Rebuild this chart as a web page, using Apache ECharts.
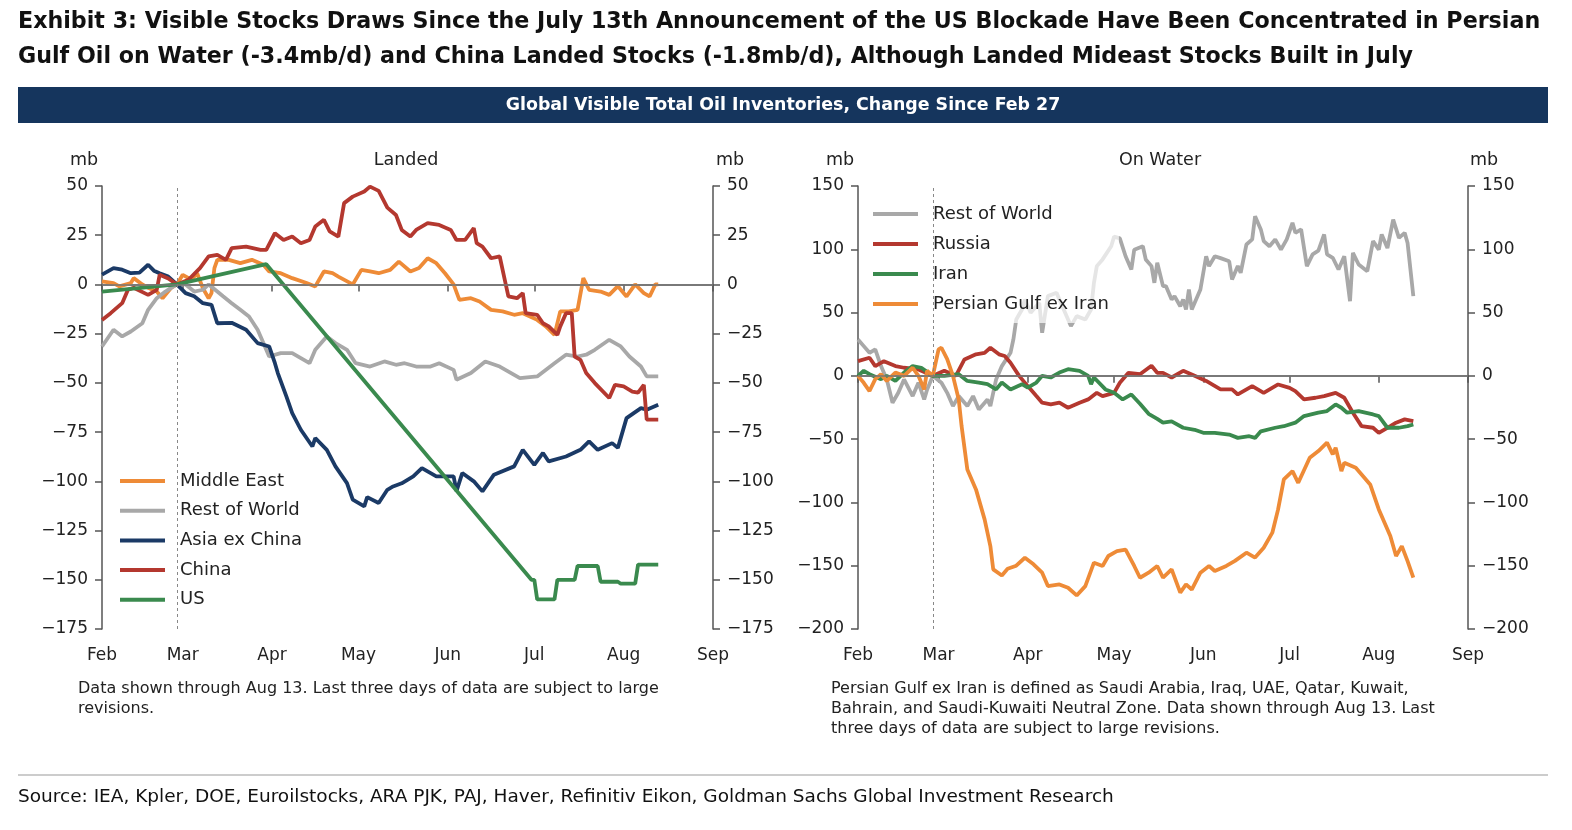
<!DOCTYPE html>
<html>
<head>
<meta charset="utf-8">
<script src="https://cdn.jsdelivr.net/npm/echarts@6/dist/echarts.min.js"></script>
<style>
html,body{margin:0;padding:0;background:#fff;}
#chart{width:1572px;height:830px;}
</style>
</head>
<body>
<div id="chart"></div>
<script>
const YEAR = '2026';
const xMin = '02-01', xMax = '09-01', baseDate = '02-27';
const monthTicks = ['Feb','Mar','Apr','May','Jun','Jul','Aug','Sep'];

// ---- Landed (mb, change since Feb 27) ----
const landedMiddleEast = [['02-01',1.5],['02-05',0.7],['02-07',-1],['02-11',0.7],['02-12',3.2],['02-15',0],['02-17',-1.7],['02-20',-3.6],['02-22',-7],['02-25',-1.7],['02-27',0],['03-01',4.9],['03-04',2.4],['03-06',5.7],['03-08',-1.9],['03-10',-7],['03-11',-4.4],['03-12',8.3],['03-13',12.5],['03-17',12.5],['03-21',10.8],['03-25',12.5],['03-29',10],['03-31',6.6],['04-04',5.7],['04-08',3.2],['04-13',0.7],['04-16',-1],['04-19',6.6],['04-22',5.7],['04-24',4],['04-29',0],['05-02',7.4],['05-05',6.6],['05-08',5.7],['05-12',7.4],['05-15',11.6],['05-19',6.6],['05-22',8.3],['05-25',13.3],['05-28',10.8],['05-31',5.7],['06-03',0],['06-05',-7.8],['06-09',-7],['06-12',-8.7],['06-16',-12.9],['06-20',-13.7],['06-24',-15.4],['06-27',-14.6],['07-02',-18],['07-05',-21.3],['07-08',-25.6],['07-10',-13.7],['07-13',-13.7],['07-16',-12.9],['07-18',3.2],['07-20',-2.7],['07-24',-3.6],['07-27',-5.3],['07-30',-0.9],['08-02',-6.1],['08-05',0],['08-08',-4.4],['08-10',-6.1],['08-12',0],['08-13',0]];
const landedRestOfWorld = [['02-01',-31.5],['02-05',-23],['02-08',-26.4],['02-11',-23.9],['02-15',-19.7],['02-17',-12.9],['02-20',-7],['02-23',-3.6],['02-25',-1.7],['02-27',0],['03-02',0],['03-05',-3.6],['03-08',-2.7],['03-10',0],['03-13',-3.6],['03-15',-6],['03-18',-9.5],['03-21',-12.9],['03-24',-16.3],['03-27',-23],['03-29',-29.8],['03-31',-36.6],['04-04',-34.9],['04-08',-34.9],['04-14',-40],['04-16',-33.2],['04-20',-26.4],['04-23',-29.8],['04-27',-33.2],['04-30',-40],['05-05',-41.7],['05-10',-39.1],['05-14',-40.8],['05-17',-40],['05-21',-41.7],['05-26',-41.7],['05-29',-40],['06-03',-43.4],['06-04',-48.4],['06-09',-45],['06-14',-39.1],['06-19',-41.7],['06-26',-47.6],['07-02',-46.7],['07-08',-40],['07-12',-35.7],['07-16',-36.6],['07-19',-35.7],['07-22',-33.2],['07-27',-28.1],['07-31',-31.5],['08-03',-36.6],['08-07',-41.7],['08-09',-46.7],['08-13',-46.7]];
const landedAsiaExChina = [['02-01',5],['02-05',8.3],['02-08',7.5],['02-11',5.7],['02-14',6],['02-17',10],['02-19',7],['02-21',5.7],['02-24',4],['02-27',0],['03-02',-4.4],['03-05',-6],['03-08',-9.5],['03-11',-10.4],['03-13',-19.7],['03-18',-19.5],['03-23',-23],['03-27',-29.8],['03-31',-31.5],['04-02',-40],['04-03',-45],['04-06',-57],['04-08',-65.3],['04-11',-73.8],['04-15',-82.3],['04-16',-78],['04-20',-84],['04-23',-92.4],['04-27',-100.9],['04-29',-109.3],['05-03',-112.7],['05-04',-108],['05-08',-111],['05-11',-104.3],['05-13',-102.6],['05-16',-101],['05-20',-97.5],['05-23',-93.3],['05-28',-97.5],['06-03',-97.5],['06-04',-105],['06-06',-95.8],['06-10',-100],['06-13',-105.1],['06-17',-96.6],['06-24',-92.4],['06-27',-84],['07-01',-91.6],['07-04',-85.6],['07-06',-89.9],['07-12',-87.4],['07-17',-84],['07-20',-79.7],['07-23',-84],['07-28',-80.6],['07-30',-83],['08-02',-67.9],['08-07',-62.8],['08-09',-63.6],['08-13',-61.1]];
const landedChina = [['02-01',-18],['02-04',-14.6],['02-08',-9.5],['02-10',-2.7],['02-12',-1.7],['02-17',-5.3],['02-20',-2.7],['02-21',4.9],['02-24',3],['02-27',0],['03-03',2.4],['03-07',8.3],['03-10',14.2],['03-13',15],['03-16',12.5],['03-18',18.4],['03-23',19.2],['03-28',17.6],['03-30',17.6],['04-02',26],['04-05',22.6],['04-08',24.3],['04-11',20.9],['04-14',22.6],['04-16',29.4],['04-19',32.8],['04-21',27],['04-24',24.3],['04-26',41.3],['04-29',44.6],['05-03',47.2],['05-05',49.7],['05-08',47.5],['05-11',39],['05-14',35.3],['05-16',27.7],['05-19',24.3],['05-21',27.7],['05-25',31.1],['05-29',30.2],['06-02',27.7],['06-04',22.6],['06-07',22.6],['06-10',28.6],['06-11',21],['06-13',19.2],['06-16',13.3],['06-19',14.2],['06-21',0.7],['06-22',-6.1],['06-25',-7],['06-27',-4.4],['06-28',-14.6],['07-02',-15.4],['07-04',-19.7],['07-06',-21.3],['07-09',-25.6],['07-10',-21.3],['07-12',-14.6],['07-14',-14.6],['07-15',-36.6],['07-17',-38.3],['07-19',-45],['07-22',-50.1],['07-27',-57.7],['07-29',-51],['08-01',-51.8],['08-04',-54.4],['08-06',-55],['08-08',-51],['08-09',-68.7],['08-13',-68.7]];
const landedUS = [['02-01',-3.6],['02-27',0],['03-30',10.3],['06-30',-150],['07-01',-150],['07-02',-160],['07-08',-160],['07-09',-150],['07-15',-150],['07-16',-143],['07-23',-143],['07-24',-151],['07-30',-151],['07-31',-152],['08-05',-152],['08-06',-142.3],['08-13',-142.3]];

// ---- On Water (mb, change since Feb 27) ----
const waterRestOfWorld = [['02-01',28.8],['02-03',23.5],['02-05',18.2],['02-07',21],['02-09',7.7],['02-11',-2.8],['02-13',-21.2],['02-15',-13.4],['02-17',-2.8],['02-20',-16],['02-22',-5.4],['02-24',-18.6],['02-25',-10.9],['02-27',0],['03-02',-5.4],['03-04',-13.4],['03-06',-23.9],['03-08',-16],['03-11',-23.9],['03-13',-16],['03-15',-26.5],['03-18',-18.6],['03-19',-23.9],['03-21',-2.8],['03-23',7.7],['03-26',18.2],['03-27',28.8],['03-28',44.5],['03-30',52.4],['03-31',60.3],['04-02',49.8],['04-05',57.7],['04-06',34],['04-08',63],['04-11',65.6],['04-13',55],['04-16',39.3],['04-18',47.2],['04-21',44.5],['04-23',52.4],['04-24',73.5],['04-25',86.7],['04-27',92],['04-30',102.4],['05-01',110],['05-03',108.6],['05-05',94.5],['05-07',84],['05-08',99.7],['05-11',102.4],['05-12',92],['05-14',86.7],['05-15',73.5],['05-16',89.3],['05-18',70.9],['05-19',70.9],['05-21',60.3],['05-22',63],['05-24',55],['05-25',60.3],['05-26',52.4],['05-27',68.2],['05-28',52.4],['05-31',68.2],['06-02',94.5],['06-03',86.7],['06-05',94.5],['06-07',93],['06-10',90.6],['06-11',76.1],['06-13',86.7],['06-14',81.4],['06-16',103.8],['06-18',107.8],['06-19',126.1],['06-21',115.7],['06-22',106.5],['06-24',102.4],['06-26',107.8],['06-28',99.7],['06-30',107.8],['07-02',120.9],['07-03',113],['07-05',115.7],['07-07',86.7],['07-09',96],['07-11',98.9],['07-13',111.7],['07-14',96],['07-16',93.3],['07-18',84],['07-20',94.5],['07-22',59],['07-23',97.2],['07-25',88],['07-28',82.7],['07-30',106.4],['08-01',99.7],['08-02',111.7],['08-04',101],['08-06',123.5],['08-08',109],['08-10',113],['08-11',105],['08-13',63]];
const waterRussia = [['02-01',11.6],['02-05',14.3],['02-07',7.7],['02-10',11.6],['02-14',7.7],['02-17',6.4],['02-22',5.1],['02-27',0],['03-03',4],['03-07',0],['03-10',13],['03-14',17],['03-17',18.2],['03-19',22.2],['03-22',17],['03-24',15.7],['03-26',10.3],['03-29',0],['04-01',-8.1],['04-04',-16],['04-06',-21.2],['04-09',-22.6],['04-12',-21.2],['04-15',-25.2],['04-19',-21.2],['04-22',-18.6],['04-25',-13.4],['04-27',-16],['05-01',-13.4],['05-03',-5.4],['05-06',2.4],['05-10',1.3],['05-14',8],['05-16',2.4],['05-18',2.4],['05-21',-1.3],['05-25',4],['05-29',0],['06-02',-4],['06-07',-10.7],['06-11',-10.7],['06-13',-14.7],['06-18',-8.1],['06-22',-13.4],['06-27',-6.8],['07-01',-9.5],['07-03',-12],['07-06',-18.6],['07-10',-17.3],['07-13',-16],['07-17',-13.4],['07-20',-17.3],['07-23',-29.1],['07-26',-39.7],['07-30',-41],['08-01',-45],['08-05',-39.7],['08-07',-37],['08-10',-34.4],['08-13',-35.7]];
const waterIran = [['02-01',0],['02-03',4],['02-05',1.3],['02-09',-2.6],['02-11',0],['02-14',-4],['02-17',2.6],['02-20',7.7],['02-23',6.4],['02-27',0],['03-03',0],['03-08',1.3],['03-11',-4],['03-15',-5.3],['03-18',-6.6],['03-21',-10.7],['03-23',-5.3],['03-26',-10.7],['03-30',-6.6],['04-01',-9.3],['04-04',-5.3],['04-06',0],['04-09',-1.3],['04-12',2.6],['04-15',5.3],['04-19',4],['04-22',0],['04-23',-6.6],['04-24',-1.3],['04-28',-10.7],['05-01',-13.4],['05-04',-18.6],['05-07',-14.7],['05-10',-22],['05-13',-30],['05-16',-34],['05-18',-37],['05-21',-36],['05-25',-41],['05-29',-42.6],['06-01',-45],['06-05',-45],['06-10',-46.4],['06-13',-49],['06-17',-47.7],['06-19',-49],['06-21',-43.8],['06-26',-41],['06-29',-39.8],['07-03',-37],['07-06',-31.8],['07-11',-29.1],['07-14',-27.8],['07-17',-22.6],['07-19',-25.2],['07-21',-29.1],['07-25',-27.8],['07-30',-30.5],['08-01',-31.8],['08-04',-41],['08-08',-41],['08-11',-39.7],['08-13',-38.4]];
const waterPersianGulfExIran = [['02-01',0],['02-03',-5.5],['02-05',-12],['02-07',-2.6],['02-09',1.3],['02-11',-4],['02-14',2.6],['02-17',0],['02-20',6.4],['02-22',0],['02-24',-10.7],['02-25',4],['02-27',0],['03-01',20.9],['03-02',22.2],['03-04',13.3],['03-06',0],['03-08',-18.6],['03-09',-39.7],['03-11',-73.9],['03-14',-89.7],['03-17',-113.4],['03-19',-134.5],['03-20',-152.9],['03-23',-157.7],['03-25',-152.4],['03-28',-150],['03-31',-143.7],['04-03',-148.9],['04-06',-155.5],['04-08',-166.1],['04-12',-164.8],['04-15',-167.4],['04-18',-173.5],['04-21',-166.1],['04-24',-147.6],['04-27',-150.2],['04-29',-142.3],['05-02',-138.5],['05-05',-137.2],['05-08',-150.2],['05-10',-159.5],['05-13',-155.5],['05-16',-150.2],['05-18',-159.5],['05-21',-152.9],['05-24',-171.3],['05-26',-164.8],['05-28',-168.8],['05-31',-155.5],['06-03',-150.2],['06-05',-154.2],['06-09',-150.2],['06-12',-146.2],['06-16',-139.7],['06-19',-143.6],['06-22',-135.8],['06-25',-123.9],['06-27',-105.5],['06-29',-81.8],['07-02',-75.3],['07-04',-84.5],['07-08',-64.7],['07-11',-59.4],['07-14',-52.8],['07-16',-62],['07-17',-56.8],['07-19',-75.3],['07-20',-68.7],['07-24',-72.6],['07-29',-85.8],['08-01',-105.5],['08-05',-126.6],['08-07',-142.4],['08-09',-134.5],['08-11',-146.4],['08-13',-159.5]];

const landedTicks = {min:-175, max:50, interval:25};
const waterTicks = {min:-200, max:150, interval:50};

const C = {orange:'#ee8b37', gray:'#a8a8a8', navy:'#1b3a66', red:'#b4382f', green:'#3a8a4e'};
const AX = '#555';
const FONT = '"DejaVu Sans", sans-serif';

const d = s => YEAR + '-' + s;
const toData = arr => arr.map(p => [d(p[0]), p[1]]);
const fmtY = v => String(v).replace('-', '\u2212');

function xAxis(grid){
  return {
    type:'time', gridIndex:grid, min:d(xMin), max:d(xMax), splitNumber:7,
    axisLine:{show:true, lineStyle:{color:AX, width:1.5}},
    axisTick:{show:true, length:7, lineStyle:{color:AX, width:1.5}},
    axisLabel:{formatter:(v)=>monthTicks[new Date(v).getMonth()-1] || '', color:'#222', fontSize:17, fontFamily:FONT, margin:18, showMinLabel:true, showMaxLabel:true, hideOverlap:false},
    splitLine:{show:false}
  };
}
function yAxis(grid, pos, t){
  return {
    type:'value', gridIndex:grid, position:pos, min:t.min, max:t.max, interval:t.interval,
    axisLine:{show:true, lineStyle:{color:AX, width:1.5}},
    axisTick:{show:true, length:7, lineStyle:{color:AX, width:1.5}},
    axisLabel:{formatter:fmtY, color:'#222', fontSize:17, fontFamily:FONT, margin:14},
    splitLine:{show:false}
  };
}
function line(name, arr, color, xi, yi, extra){
  return Object.assign({
    name, type:'line', data:toData(arr), xAxisIndex:xi, yAxisIndex:yi,
    showSymbol:false, symbol:'none', smooth:false, silent:true,
    lineStyle:{color, width:3.8}, itemStyle:{color}, z:3
  }, extra||{});
}
function refLines(){
  return {markLine:{silent:true, symbol:'none', animation:false, label:{show:false},
    data:[
      {xAxis:d(baseDate), lineStyle:{color:'#888', width:1, type:[3,3]}},
      {yAxis:0, lineStyle:{color:'#777', width:1.5, type:'solid'}}
    ]}};
}

const legendText = {color:'#222', fontSize:18, fontFamily:FONT, lineHeight:20, padding:[0,0,0,10]};
const txt = (x, y, text, size, extra) => ({type:'text', x, y, style:Object.assign({text, font:size+'px '+FONT, fill:'#222', textVerticalAlign:'middle'}, extra||{})});

const chart = echarts.init(document.getElementById('chart'), null, {renderer:'canvas'});
chart.setOption({
  animation:false,
  backgroundColor:'#fff',
  grid:[
    {left:102, right:859, top:186, bottom:201, containLabel:false},
    {left:858, right:104, top:186, bottom:201, containLabel:false}
  ],
  xAxis:[xAxis(0), xAxis(1)],
  yAxis:[
    yAxis(0,'left',landedTicks), yAxis(0,'right',landedTicks),
    yAxis(1,'left',waterTicks), yAxis(1,'right',waterTicks)
  ],
  legend:[
    {data:['Middle East','Rest of World','Asia ex China','China','US'], orient:'vertical', left:112, top:465,
     icon:'rect', itemWidth:45, itemHeight:4, itemGap:9.7, textStyle:legendText, selectedMode:false,
     backgroundColor:'rgba(255,255,255,0.7)', padding:[6,10,6,8]},
    {data:['Rest of World ','Russia','Iran','Persian Gulf ex Iran'], orient:'vertical', left:865, top:198,
     icon:'rect', itemWidth:45, itemHeight:4, itemGap:10, textStyle:legendText, selectedMode:false,
     backgroundColor:'rgba(255,255,255,0.7)', padding:[6,10,9,8],
     formatter:n=>n.trim()}
  ],
  series:[
    line('Middle East', landedMiddleEast, C.orange, 0, 0, refLines()),
    line('Rest of World', landedRestOfWorld, C.gray, 0, 0),
    line('Asia ex China', landedAsiaExChina, C.navy, 0, 0),
    line('China', landedChina, C.red, 0, 0),
    line('US', landedUS, C.green, 0, 0),
    line('Rest of World ', waterRestOfWorld, C.gray, 1, 2, refLines()),
    line('Russia', waterRussia, C.red, 1, 2),
    line('Iran', waterIran, C.green, 1, 2),
    line('Persian Gulf ex Iran', waterPersianGulfExIran, C.orange, 1, 2)
  ],
  graphic:[
    txt(18, 22, 'Exhibit 3: Visible Stocks Draws Since the July 13th Announcement of the US Blockade Have Been Concentrated in Persian', 22.2, {font:'bold 22.2px '+FONT, fill:'#111'}),
    txt(18, 57, 'Gulf Oil on Water (-3.4mb/d) and China Landed Stocks (-1.8mb/d), Although Landed Mideast Stocks Built in July', 22.2, {font:'bold 22.2px '+FONT, fill:'#111'}),
    {type:'rect', shape:{x:18, y:87, width:1530, height:36}, style:{fill:'#15355d'}},
    txt(783, 105, 'Global Visible Total Oil Inventories, Change Since Feb 27', 17.4, {font:'bold 17.4px '+FONT, fill:'#fff', textAlign:'center'}),
    txt(84, 160, 'mb', 17.5, {textAlign:'center'}),
    txt(730, 160, 'mb', 17.5, {textAlign:'center'}),
    txt(406, 160, 'Landed', 17.5, {textAlign:'center'}),
    txt(840, 160, 'mb', 17.5, {textAlign:'center'}),
    txt(1484, 160, 'mb', 17.5, {textAlign:'center'}),
    txt(1160, 160, 'On Water', 17.5, {textAlign:'center'}),
    txt(78, 689, 'Data shown through Aug 13. Last three days of data are subject to large', 16),
    txt(78, 709, 'revisions.', 16),
    txt(831, 689, 'Persian Gulf ex Iran is defined as Saudi Arabia, Iraq, UAE, Qatar, Kuwait,', 16),
    txt(831, 709, 'Bahrain, and Saudi-Kuwaiti Neutral Zone. Data shown through Aug 13. Last', 16),
    txt(831, 729, 'three days of data are subject to large revisions.', 16),
    {type:'line', shape:{x1:18, y1:775, x2:1548, y2:775}, style:{stroke:'#bbb', lineWidth:1.5}},
    txt(18, 797, 'Source: IEA, Kpler, DOE, Euroilstocks, ARA PJK, PAJ, Haver, Refinitiv Eikon, Goldman Sachs Global Investment Research', 18.5, {fill:'#111'})
  ]
});
</script>
</body>
</html>
